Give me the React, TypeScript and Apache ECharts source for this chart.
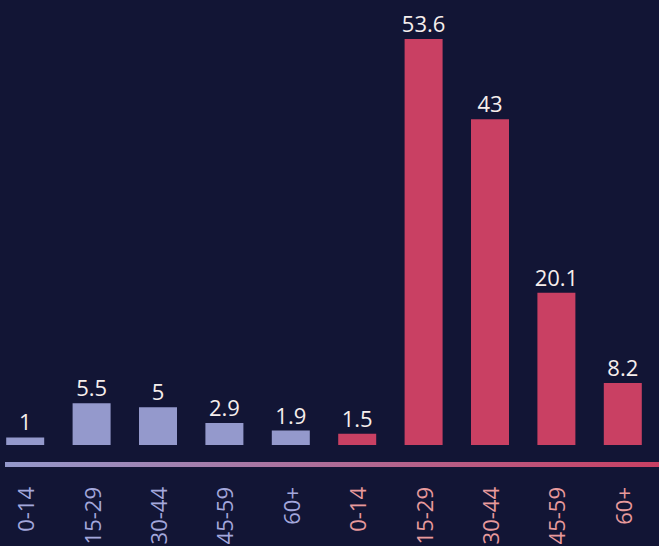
import React, { useEffect, useRef } from "react";
import * as echarts from "echarts";

const categories = ["0-14", "15-29", "30-44", "45-59", "60+", "0-14", "15-29", "30-44", "45-59", "60+"];
const values = [1, 5.5, 5, 2.9, 1.9, 1.5, 53.6, 43, 20.1, 8.2];
const groups = [0, 0, 0, 0, 0, 1, 1, 1, 1, 1];
const barColors = ["#9499cc", "#c94063"];
const labelColors = ["#a3a7dc", "#e89a9c"];

export default function App() {
  const ref = useRef<HTMLDivElement>(null);
  useEffect(() => {
    if (!ref.current) return;
    const chart = echarts.init(ref.current, null, { renderer: "svg" });
    chart.setOption({
      animation: false,
      backgroundColor: "#121535",
      grid: { left: -8, right: 3, top: 39, bottom: 101, containLabel: false, outerBoundsMode: "none" },
      xAxis: {
        type: "category",
        data: categories,
        axisLine: { show: false },
        axisTick: { show: false },
        axisLabel: {
          rotate: 90,
          margin: 42,
          fontSize: 22,
          fontFamily: "Open Sans",
          interval: 0,
          color: (_v: any, i: number) => labelColors[groups[i]],
        },
      },
      yAxis: { type: "value", min: 0, max: "dataMax", show: false, splitLine: { show: false } },
      graphic: [
        {
          type: "rect",
          shape: { x: 5, y: 462, width: 654, height: 5 },
          style: {
            fill: new echarts.graphic.LinearGradient(0, 0, 1, 0, [
              { offset: 0, color: barColors[0] },
              { offset: 1, color: barColors[1] },
            ]),
          },
          silent: true,
        },
      ],
      series: [
        {
          type: "bar",
          barWidth: 38,
          data: values.map((v, i) => ({ value: v, itemStyle: { color: barColors[groups[i]] } })),
          label: {
            show: true,
            position: "top",
            distance: 5,
            color: "#f6eeec",
            fontSize: 22,
            fontFamily: "Open Sans",
          },
        },
      ],
    });
    return () => chart.dispose();
  }, []);
  return (
    <div
      ref={ref}
      style={{ position: "absolute", left: 0, top: 0, width: 659, height: 546 }}
    />
  );
}
